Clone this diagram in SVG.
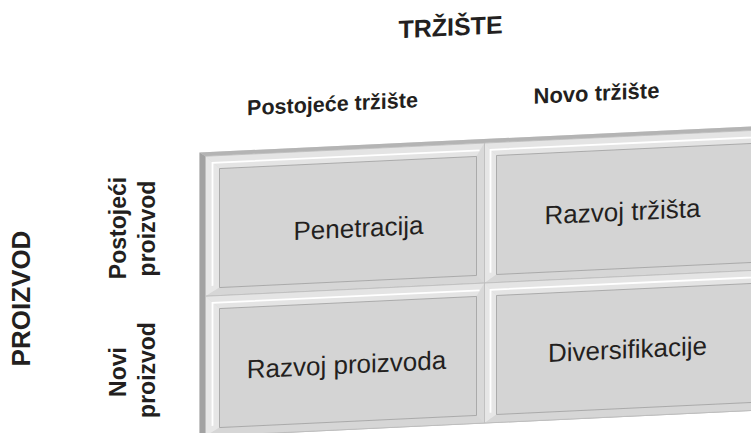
<svg xmlns="http://www.w3.org/2000/svg" width="751" height="433" viewBox="0 0 751 433">
<style>
.t{font-family:"Liberation Sans",Arial,Helvetica,sans-serif;fill:#231f20}
.b{font-weight:bold}
.bt{fill:#e4e4e4}
.bl{fill:#e6e6e6}
.bb{fill:#d6d6d6}
.br{fill:#d9d9d9}
.face{fill:#d4d4d4;stroke:#a0a0a0;stroke-width:0.8}
.hl{fill:none;stroke:#ffffff;stroke-width:1.8}
.edge{fill:none;stroke:#bcbcbc;stroke-width:0.8}
</style>
<rect width="751" height="433" fill="#ffffff"/>
<g transform="translate(199.5,152.5) skewY(-2.7)">
  <g id="slab">
    <rect x="0" y="0" width="600" height="284" fill="#dadada"/>
    <polygon points="0,0 600,0 600,4 6,4" fill="#b4b4b4"/>
    <polygon points="0,0 6,4 6,284 0,284" fill="#a2a2a2"/>
    <line x1="0" y1="284" x2="600" y2="284" stroke="#b0b0b0" stroke-width="1"/>
  </g>
  <g id="cell-penetracija">
    <polygon class="bt" points="6,4 285,4 277,17 20,17"/>
    <polygon class="bl" points="6,4 20,17 20,136 6,144"/>
    <polygon class="bb" points="6,144 20,136 277,136 285,144"/>
    <polygon class="br" points="285,4 285,144 277,136 277,17"/>
    <path class="hl" d="M13,134 V11 H280"/>
    <rect class="edge" x="6" y="4" width="279" height="140"/>
    <rect class="face" x="20" y="17" width="257" height="119"/>
    <text class="t" x="159" y="92" font-size="26" text-anchor="middle">Penetracija</text>
  </g>
  <g id="cell-razvoj-trzista">
    <polygon class="bt" points="285,4 600,4 592,17 297,17"/>
    <polygon class="bl" points="285,4 297,17 297,136 285,144"/>
    <polygon class="bb" points="285,144 297,136 592,136 600,144"/>
    <path class="hl" d="M291,134 V11 H600"/>
    <rect class="edge" x="285" y="4" width="315" height="140"/>
    <rect class="face" x="297" y="17" width="310" height="119"/>
    <text class="t" x="423" y="88" font-size="26" text-anchor="middle">Razvoj tržišta</text>
  </g>
  <g id="cell-razvoj-proizvoda">
    <polygon class="bt" points="6,144 285,144 277,157 20,157"/>
    <polygon class="bl" points="6,144 20,157 20,276 6,284"/>
    <polygon class="bb" points="6,284 20,276 277,276 285,284"/>
    <polygon class="br" points="285,144 285,284 277,276 277,157"/>
    <path class="hl" d="M13,274 V151 H280"/>
    <rect class="edge" x="6" y="144" width="279" height="140"/>
    <rect class="face" x="20" y="157" width="257" height="119"/>
    <text class="t" x="147" y="228" font-size="26" text-anchor="middle">Razvoj proizvoda</text>
  </g>
  <g id="cell-diversifikacije">
    <polygon class="bt" points="285,144 600,144 592,157 297,157"/>
    <polygon class="bl" points="285,144 297,157 297,276 285,284"/>
    <polygon class="bb" points="285,284 297,276 592,276 600,284"/>
    <path class="hl" d="M291,274 V151 H600"/>
    <rect class="edge" x="285" y="144" width="315" height="140"/>
    <rect class="face" x="297" y="157" width="310" height="119"/>
    <text class="t" x="428" y="226" font-size="26" text-anchor="middle">Diversifikacije</text>
  </g>
  <g id="header-trziste">
    <text class="t b" x="251" y="-105" font-size="25" text-anchor="middle">TRŽIŠTE</text>
  </g>
  <g id="header-postojece-trziste">
    <text class="t b" x="133" y="-35" font-size="21.5" text-anchor="middle">Postojeće tržište</text>
  </g>
  <g id="header-novo-trziste">
    <text class="t b" x="397" y="-33" font-size="22" text-anchor="middle">Novo tržište</text>
  </g>
</g>
<g id="label-proizvod">
  <text class="t b" transform="translate(30,298.5) rotate(-90)" font-size="26" text-anchor="middle">PROIZVOD</text>
</g>
<g id="label-postojeci-proizvod">
  <text class="t b" transform="translate(126,228) rotate(-90)" font-size="23" text-anchor="middle">Postojeći</text>
  <text class="t b" transform="translate(155,228.5) rotate(-90)" font-size="23" text-anchor="middle">proizvod</text>
</g>
<g id="label-novi-proizvod">
  <text class="t b" transform="translate(126,372) rotate(-90)" font-size="23" text-anchor="middle">Novi</text>
  <text class="t b" transform="translate(155,370) rotate(-90)" font-size="23" text-anchor="middle">proizvod</text>
</g>
<g id="connectors"/>
</svg>
